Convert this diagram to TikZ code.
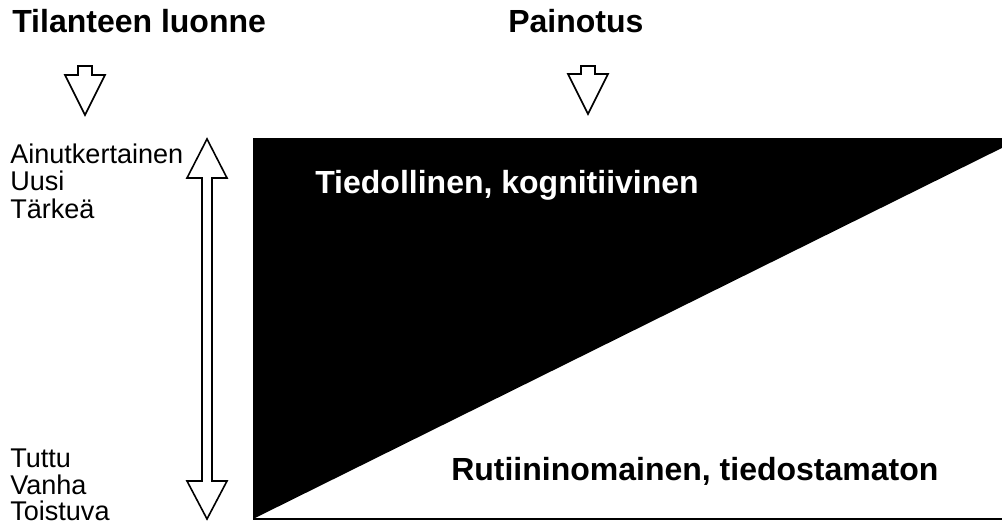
\documentclass[tikz,border=0pt]{standalone}
\usepackage{fontspec}
\setmainfont{Liberation Sans}
\begin{document}
\begin{tikzpicture}[x=0.75pt,y=-0.75pt,
  heading/.style={font=\bfseries\fontsize{24pt}{28pt}\selectfont,inner sep=0,anchor=base west},
  label/.style={font=\fontsize{20.3pt}{24pt}\selectfont,inner sep=0,anchor=base west},
  inlabel/.style={font=\bfseries\fontsize{24pt}{28pt}\selectfont,inner sep=0,anchor=base west},
  blockarrow/.style={draw=black,fill=white,line width=1.2pt,line join=miter}]
\useasboundingbox (0,0) rectangle (1002,521);
\begin{scope}
\clip (0,0) rectangle (1002,521);
% black triangle
\fill[black] (253,139) -- (1020,139) -- (253,519) -- cycle;
\draw[line width=1.2pt] (253,139) -- (1002,139);
\draw[line width=1.6pt] (253,519) -- (1002,519);
\end{scope}
% headings
\node[heading] (h1) at (12,32) {Tilanteen luonne};
\node[heading] (h2) at (508,32) {Painotus};
% top block arrows
\draw[blockarrow] (78,66) -- (92,66) -- (92,75) -- (105,75) -- (85,115) -- (65,75) -- (78,75) -- cycle;
\draw[blockarrow] (581,66) -- (595,66) -- (595,74) -- (608,74) -- (588,114) -- (568,74) -- (581,74) -- cycle;
% double arrow
\draw[blockarrow] (207,139) -- (227,178) -- (212,178) -- (212,481) -- (227,481) -- (207,519) -- (187,481) -- (202,481) -- (202,178) -- (187,178) -- cycle;
% left labels
\node[label] (a1) at (10,163) {Ainutkertainen};
\node[label] (a2) at (10,190.5) {Uusi};
\node[label] (a3) at (10,218) {Tärkeä};
\node[label] (b1) at (10,467) {Tuttu};
\node[label] (b2) at (10,494) {Vanha};
\node[label] (b3) at (10,520.5) {Toistuva};
% inner labels
\node[inlabel,text=white] (t1) at (315,193) {Tiedollinen, kognitiivinen};
\node[inlabel] (t2) at (451,480) {Rutiininomainen, tiedostamaton};
\end{tikzpicture}
\end{document}
